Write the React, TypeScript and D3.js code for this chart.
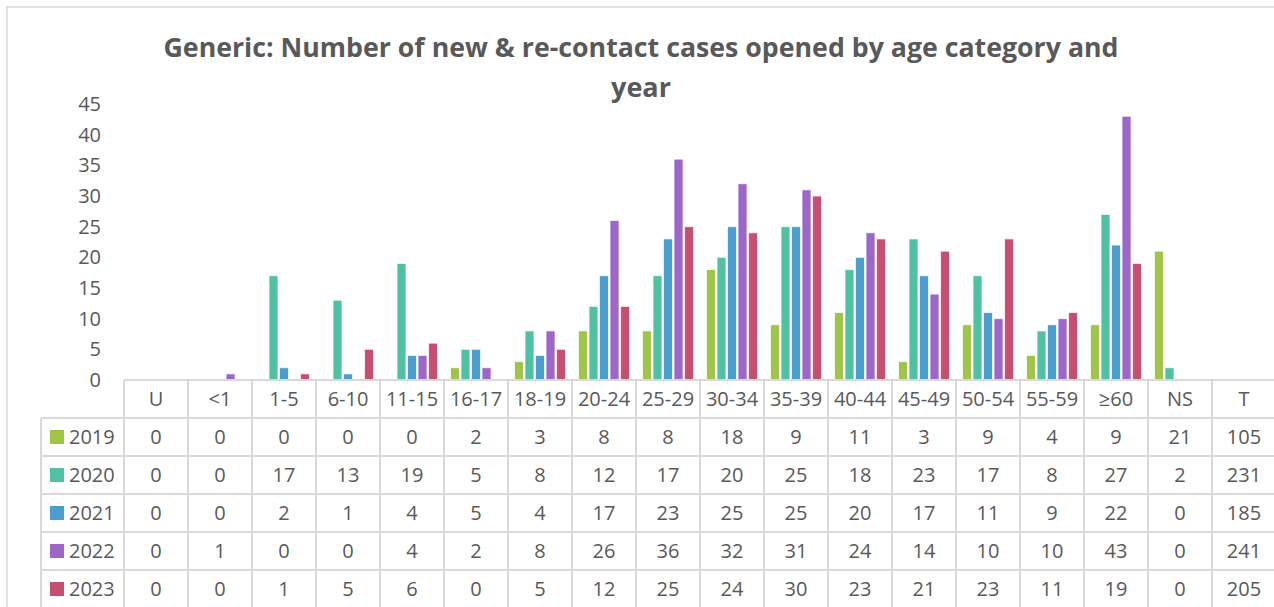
import * as React from 'react';
import * as d3 from 'd3';

const categories = ['U', '<1', '1-5', '6-10', '11-15', '16-17', '18-19', '20-24', '25-29', '30-34', '35-39', '40-44', '45-49', '50-54', '55-59', '≥60', 'NS'];
const totalLabel = 'T';
const years = ['2019', '2020', '2021', '2022', '2023'];

const v2019 = [0, 0, 0, 0, 0, 2, 3, 8, 8, 18, 9, 11, 3, 9, 4, 9, 21];
const v2020 = [0, 0, 17, 13, 19, 5, 8, 12, 17, 20, 25, 18, 23, 17, 8, 27, 2];
const v2021 = [0, 0, 2, 1, 4, 5, 4, 17, 23, 25, 25, 20, 17, 11, 9, 22, 0];
const v2022 = [0, 1, 0, 0, 4, 2, 8, 26, 36, 32, 31, 24, 14, 10, 10, 43, 0];
const v2023 = [0, 0, 1, 5, 6, 0, 5, 12, 25, 24, 30, 23, 21, 23, 11, 19, 0];
const totals = [105, 231, 185, 241, 205];

const yTicks = [0, 5, 10, 15, 20, 25, 30, 35, 40, 45];
const colors = ['#a0c444', '#52c0a5', '#4a9dcc', '#9c67c9', '#c64f71'];

const series = [v2019, v2020, v2021, v2022, v2023];

const W = 1274;
const H = 607;
const FONT = '"Open Sans", "DejaVu Sans", sans-serif';
const TEXT = '#595959';
const GRID = '#d9d9d9';

export default function App() {
  const cols = [...categories, totalLabel];
  const x = d3.scaleBand().domain(cols).range([124, 1276]);
  const inner = d3.scaleBand().domain(years).range([6.5, 57.5]).paddingInner(0.15);
  const y = d3.scaleLinear().domain([0, 45]).range([380, 104]);

  const tableTop = 380;
  const headH = 38;
  const rowH = 38;
  const labelLeft = 41;

  return (
    <svg width={W} height={H} style={{ position: 'absolute', left: 0, top: 0, display: 'block' }}
      fontFamily={FONT}>
      <rect x={0} y={0} width={W} height={H} fill="#fff" />
      <rect x={7} y={7} width={W + 10} height={H + 10} fill="none" stroke={GRID} strokeWidth={1.5} />

      <text x={641} y={57} textAnchor="middle" fontSize={27} fontWeight="bold" fill={TEXT}
        textLength={955} lengthAdjust="spacingAndGlyphs">
        Generic: Number of new &amp; re-contact cases opened by age category and
      </text>
      <text x={641} y={97} textAnchor="middle" fontSize={27} fontWeight="bold" fill={TEXT}>
        year
      </text>

      {yTicks.map(t => (
        <text key={t} x={101} y={y(t)} dy="0.35em" textAnchor="end" fontSize={20} fill={TEXT}>{t}</text>
      ))}

      {series.map((vals, si) => (
        <g key={years[si]}>
          {vals.map((v, ci) => (
            <rect key={ci}
              x={(x(categories[ci]) as number) + (inner(years[si]) as number)}
              y={y(v)}
              width={inner.bandwidth()}
              height={y(0) - y(v)}
              fill={colors[si]} stroke="#fff" strokeOpacity={0.7} strokeWidth={1} />
          ))}
        </g>
      ))}

      {/* data table */}
      <g stroke={GRID} strokeWidth={2}>
        <line x1={124} x2={W} y1={tableTop} y2={tableTop} />
        {years.map((_, i) => (
          <line key={i} x1={labelLeft} x2={W} y1={tableTop + headH + i * rowH} y2={tableTop + headH + i * rowH} />
        ))}
        <line x1={labelLeft} x2={labelLeft} y1={tableTop + headH} y2={H} />
        {cols.map(c => (
          <line key={c} x1={x(c)} x2={x(c)} y1={tableTop} y2={H} />
        ))}
      </g>

      {cols.map(c => (
        <text key={c} x={(x(c) as number) + x.bandwidth() / 2} y={tableTop + headH / 2} dy="0.35em"
          textAnchor="middle" fontSize={20} fill={TEXT}>{c}</text>
      ))}

      {years.map((yr, si) => {
        const cy = tableTop + headH + si * rowH + rowH / 2;
        return (
          <g key={yr}>
            <rect x={50} y={cy - 7} width={14} height={14} fill={colors[si]} />
            <text x={69} y={cy} dy="0.35em" fontSize={20} fill={TEXT}>{yr}</text>
            {series[si].map((v, ci) => (
              <text key={ci} x={(x(categories[ci]) as number) + x.bandwidth() / 2} y={cy} dy="0.35em"
                textAnchor="middle" fontSize={20} fill={TEXT}>{v}</text>
            ))}
            <text x={(x(totalLabel) as number) + x.bandwidth() / 2} y={cy} dy="0.35em"
              textAnchor="middle" fontSize={20} fill={TEXT}>{totals[si]}</text>
          </g>
        );
      })}
    </svg>
  );
}
